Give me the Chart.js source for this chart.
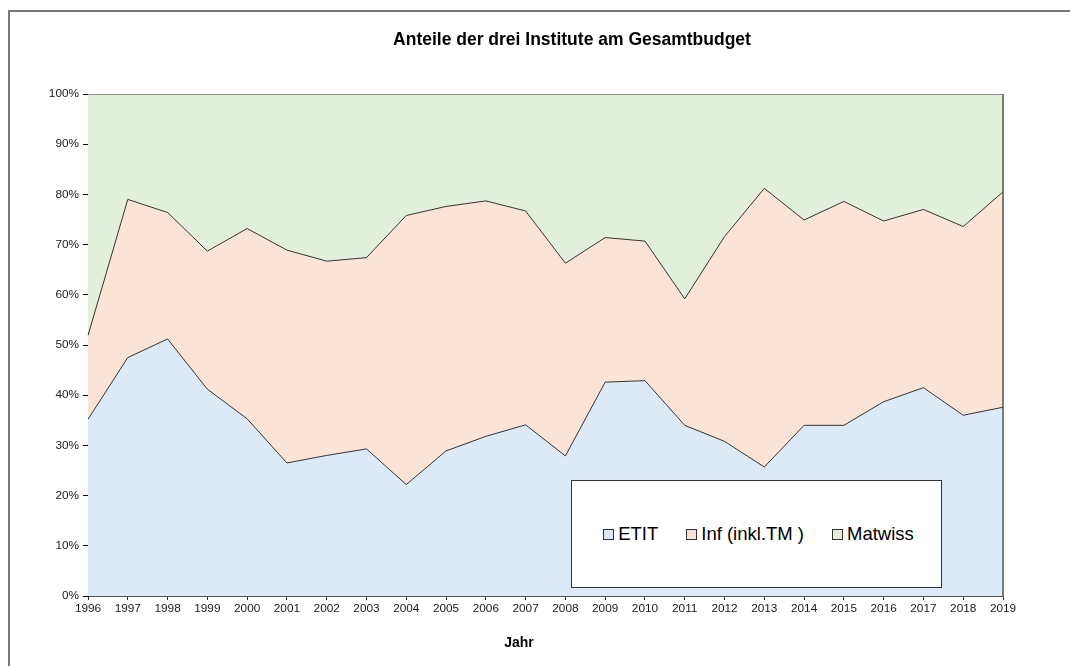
<!DOCTYPE html>
<html>
<head>
<meta charset="utf-8">
<script src="https://cdn.jsdelivr.net/npm/chart.js@4.4.1/dist/chart.umd.min.js"></script>
<style>
  html, body { margin: 0; padding: 0; background: #fff; }
  body { width: 1070px; height: 666px; position: relative; overflow: hidden; font-family: "Liberation Sans", Arial, sans-serif; }
  #frame { position: absolute; left: 8px; top: 10px; width: 1100px; height: 700px; border: 2px solid #777; box-sizing: border-box; }
  #wrap { position: absolute; left: 0; top: 0; width: 1070px; height: 666px; }
  #title { position: absolute; top: 29px; left: 372px; width: 400px; text-align: center; font-weight: bold; font-size: 17.5px; color: #000; white-space: nowrap; }
  #xtitle { position: absolute; top: 634px; left: 489px; width: 60px; text-align: center; font-weight: bold; font-size: 14px; color: #000; }
  #legend { position: absolute; left: 571px; top: 480px; width: 371px; height: 108px; box-sizing: border-box; border: 1.5px solid #333; background: #fff; display: flex; align-items: center; justify-content: center; gap: 28px; font-size: 18.5px; color: #000; padding-left: 4px; }
  #legend .item { display: flex; align-items: center; gap: 4px; white-space: nowrap; }
  #legend .box { width: 9px; height: 9px; border: 1.2px solid #333; }
</style>
</head>
<body>
<div id="frame"></div>
<div id="wrap"><canvas id="chart" width="1070" height="666"></canvas></div>
<div id="title">Anteile der drei Institute am Gesamtbudget</div>
<div id="xtitle">Jahr</div>
<div id="legend"></div>
<script>
(() => {
  'use strict';

  const years = ['1996','1997','1998','1999','2000','2001','2002','2003','2004','2005','2006','2007',
                 '2008','2009','2010','2011','2012','2013','2014','2015','2016','2017','2018','2019'];

  // Anteile in Prozent
  const etit = [35.2, 47.5, 51.2, 41.2, 35.3, 26.5, 28.0, 29.3, 22.2, 28.9, 31.8, 34.1,
                27.9, 42.6, 42.9, 34.0, 30.8, 25.7, 34.0, 34.0, 38.7, 41.5, 36.0, 37.6];
  const inf = [16.7, 31.5, 25.2, 27.5, 37.9, 42.4, 38.7, 38.1, 53.6, 48.7, 46.9, 42.6,
               38.4, 28.8, 27.8, 25.2, 40.8, 55.5, 40.9, 44.6, 36.0, 35.5, 37.6, 42.9];
  const matwiss = [48.1, 21.0, 23.6, 31.3, 26.8, 31.1, 33.3, 32.6, 24.2, 22.4, 21.3, 23.3,
                   33.7, 28.6, 29.3, 40.8, 28.4, 18.8, 25.1, 21.4, 25.3, 23.0, 26.4, 19.5];

  const yTicks = [0, 10, 20, 30, 40, 50, 60, 70, 80, 90, 100];

  const seriesNames = ['ETIT', 'Inf (inkl.TM )', 'Matwiss'];
  const fills = ['rgb(220,233,246)', 'rgb(251,228,214)', 'rgb(226,239,218)'];

  const tickFont = { family: '"Liberation Sans", Arial, sans-serif', size: 11.8 };

  const plotBorder = {
    id: 'plotBorder',
    afterDatasetsDraw(chart) {
      const a = chart.chartArea;
      const ctx = chart.ctx;
      ctx.save();
      ctx.strokeStyle = '#555';
      ctx.lineWidth = 1.5;
      ctx.beginPath();
      ctx.moveTo(a.right, a.top);
      ctx.lineTo(a.right, a.bottom);
      ctx.stroke();
      ctx.restore();
    }
  };

  const chart = new Chart(document.getElementById('chart'), {
    type: 'line',
    data: {
      labels: years,
      datasets: [etit, inf, matwiss].map((d, i) => ({
        label: seriesNames[i],
        data: d,
        backgroundColor: fills[i],
        borderColor: '#333',
        borderWidth: 1,
        pointRadius: 0,
        tension: 0,
        fill: i === 0 ? 'origin' : '-1'
      }))
    },
    options: {
      responsive: false,
      animation: false,
      layout: { padding: { left: 0, right: 67, top: 94, bottom: 0 } },
      plugins: {
        legend: { display: false },
        title: { display: false },
        tooltip: { enabled: false }
      },
      scales: {
        x: {
          offset: false,
          grid: { drawOnChartArea: false, drawTicks: true, tickLength: 4, color: '#333' },
          border: { display: true, color: '#555', width: 1 },
          ticks: { font: tickFont, color: '#1a1a1a', maxRotation: 0, autoSkip: false, padding: 2 },
          afterFit(scale) { scale.height = 70; }
        },
        y: {
          stacked: true,
          min: 0,
          max: 100,
          afterBuildTicks(scale) { scale.ticks = yTicks.map(v => ({ value: v })); },
          grid: { drawOnChartArea: false, drawTicks: true, tickLength: 5, color: '#000' },
          border: { display: true, color: '#000', width: 1 },
          ticks: { font: tickFont, color: '#1a1a1a', padding: 4, callback: v => v + '%' },
          afterFit(scale) { scale.width = 88; }
        }
      }
    },
    plugins: [plotBorder]
  });

  const legendEl = document.getElementById('legend');
  chart.data.datasets.forEach(ds => {
    const item = document.createElement('div');
    item.className = 'item';
    const box = document.createElement('span');
    box.className = 'box';
    box.style.background = ds.backgroundColor;
    const txt = document.createElement('span');
    txt.textContent = ds.label;
    item.appendChild(box);
    item.appendChild(txt);
    legendEl.appendChild(item);
  });
})();
</script>
</body>
</html>
